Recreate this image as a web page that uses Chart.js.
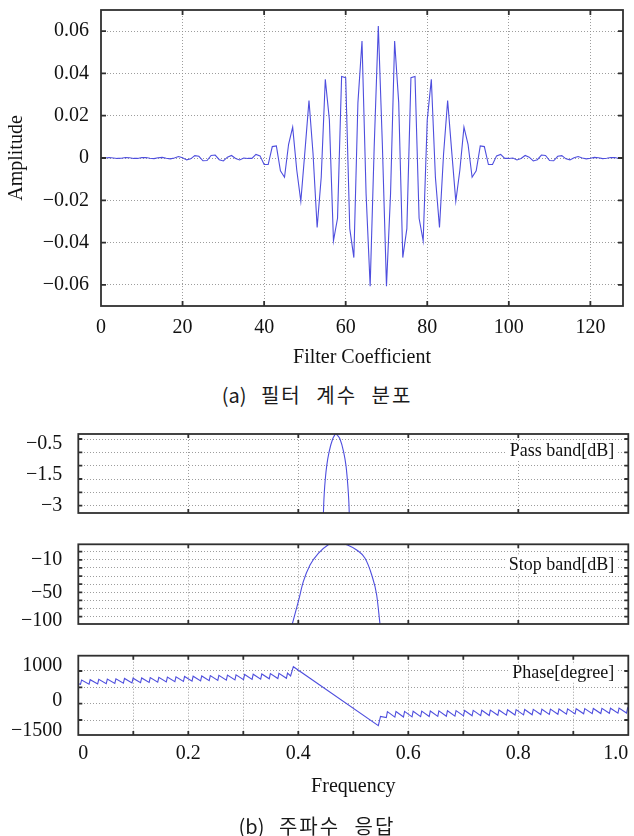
<!DOCTYPE html>
<html>
<head>
<meta charset="utf-8">
<script src="https://cdn.jsdelivr.net/npm/chart.js@4.4.1/dist/chart.umd.min.js"></script>
<style>
  html, body { margin: 0; padding: 0; background: #fff; }
  body { width: 634px; height: 836px; position: relative; overflow: hidden; }
  canvas { position: absolute; left: 0; }
  .cap { position: absolute; left: 0; width: 634px; text-align: center; font-family: "Noto Sans CJK KR", sans-serif;
         font-size: 20px; line-height: 26px; color: #1a1a1a; letter-spacing: 2px; word-spacing: 8px; }
  .cap span { letter-spacing: 0; }
</style>
</head>
<body>
<canvas id="cCoef" width="634" height="370" style="top:0px;width:634px;height:370px"></canvas>
<div class="cap" style="top:382px"><span>(a)</span> 필터 계수 분포</div>
<canvas id="cPass" width="634" height="95" style="top:425px;width:634px;height:95px"></canvas>
<canvas id="cStop" width="634" height="100" style="top:535px;width:634px;height:100px"></canvas>
<canvas id="cPhase" width="634" height="191" style="top:645px;width:634px;height:191px"></canvas>
<div class="cap" style="top:813px"><span>(b)</span> 주파수 응답</div>
<script>
// ---------------- DATA ----------------
// (a) filter coefficients, index 0..128
const coefValues = [
  -0.0002, 0, 0.0002, 0, -0.0002, -0.0001, 0.0002, 0.0001, -0.0002, -0.0002,
  0.0002, 0.0002, -0.0001, -0.0003, 0.0001, 0.0003, -0.0001, -0.0004, 0, 0.0007,
  0.0001, -0.0009, -0.0004, 0.0011, 0.0008, -0.0013, -0.0012, 0.0012, 0.0014, -0.0008,
  -0.0014, 0.0004, 0.0012, -0.0002, -0.0009, 0, -0.0002, -0.0002, 0.0017, 0.0010,
  -0.0031, -0.0031, 0.0054, 0.0057, -0.0061, -0.0091, 0.0065, 0.0146, -0.0057, -0.0205,
  0.0030, 0.0272, 0.0019, -0.0329, -0.0091, 0.0372, 0.0181, -0.0392, -0.0285, 0.0386,
  0.0380, -0.0334, -0.0471, 0.0262, 0.0553, -0.0169, -0.0606, 0.0059, 0.0624, 0.0059,
  -0.0606, -0.0169, 0.0553, 0.0262, -0.0471, -0.0334, 0.0380, 0.0386, -0.0285, -0.0392,
  0.0181, 0.0372, -0.0091, -0.0329, 0.0019, 0.0272, 0.0030, -0.0205, -0.0057, 0.0146,
  0.0065, -0.0091, -0.0061, 0.0057, 0.0054, -0.0031, -0.0031, 0.0010, 0.0017, -0.0002,
  -0.0002, 0, -0.0009, -0.0002, 0.0012, 0.0004, -0.0014, -0.0008, 0.0014, 0.0012,
  -0.0012, -0.0013, 0.0008, 0.0011, -0.0004, -0.0009, 0.0001, 0.0007, 0, -0.0004,
  -0.0001, 0.0003, 0.0001, -0.0003, -0.0001, 0.0002, 0.0002, -0.0002, -0.0002
];
const coefIndex = coefValues.map((_, i) => i);
const coefXTicks = [0, 20, 40, 60, 80, 100, 120];
const coefXLabels = ['0', '20', '40', '60', '80', '100', '120'];
const coefYTicks = [-0.06, -0.04, -0.02, 0, 0.02, 0.04, 0.06];
const coefYLabels = ['\u22120.06', '\u22120.04', '\u22120.02', '0', '0.02', '0.04', '0.06'];

// (b) pass band
const passFreq = [0.4448, 0.4457, 0.4461, 0.4473, 0.4491, 0.4517, 0.4559, 0.4625, 0.4660, 0.4685,
                  0.4711, 0.4758, 0.4825, 0.4867, 0.4891, 0.4909, 0.4922, 0.4926, 0.4933];
const passDb   = [-3.6, -3.275, -3.0, -2.5, -2.0, -1.5, -0.99, -0.5, -0.36, -0.30,
                  -0.36, -0.5, -0.99, -1.5, -2.0, -2.5, -3.0, -3.275, -3.6];
const passYLabels = ['\u22120.5', '\u22121.5', '\u22123'];

// (b) stop band
const stopFreq = [0.3851, 0.3891, 0.4000, 0.4091, 0.4213, 0.4364, 0.4545, 0.4625, 0.4704, 0.4780,
                  0.4880, 0.5062, 0.5213, 0.5335, 0.5425, 0.5485, 0.5505];
const stopDb   = [-99, -89, -61.5, -36.9, -16.4, -2.0, 8.5, 11, 11.5, 11,
                  8.5, 2.1, -8.1, -28.7, -53.3, -89, -101];
const stopYLabels = ['\u221210', '\u221250', '\u2212100'];

// (b) phase
const phaseFreq = [
  0, 0.004, 0.006, 0.0196, 0.0216, 0.0352, 0.0372, 0.0508, 0.0528, 0.0664, 0.0684, 0.082, 0.084,
  0.0976, 0.0996, 0.1132, 0.1152, 0.1288, 0.1308, 0.1444, 0.1464, 0.16, 0.162, 0.1756, 0.1776,
  0.1912, 0.1932, 0.2068, 0.2088, 0.2224, 0.2244, 0.238, 0.24, 0.2536, 0.2556, 0.2692, 0.2712,
  0.2848, 0.2868, 0.3004, 0.3024, 0.316, 0.318, 0.3316, 0.3336, 0.3472, 0.3492, 0.3628, 0.3648,
  0.3784, 0.3804, 0.386, 0.391,
  0.5455, 0.5495, 0.560, 0.562, 0.5756, 0.5776, 0.5912, 0.5932, 0.6068, 0.6088, 0.6224, 0.6244,
  0.638, 0.64, 0.6536, 0.6556, 0.6692, 0.6712, 0.6848, 0.6868, 0.7004, 0.7024, 0.716, 0.718,
  0.7316, 0.7336, 0.7472, 0.7492, 0.7628, 0.7648, 0.7784, 0.7804, 0.794, 0.796, 0.8096, 0.8116,
  0.8252, 0.8272, 0.8408, 0.8428, 0.8564, 0.8584, 0.872, 0.874, 0.8876, 0.8896, 0.9032, 0.9052,
  0.9188, 0.9208, 0.9344, 0.9364, 0.95, 0.952, 0.9656, 0.9676, 0.9812, 0.9832, 0.9968, 0.9988, 1.0
];
const phaseDeg = [
  610, 590, 725, 596, 735, 604, 744, 612, 753, 619, 762, 627, 771,
  635, 779, 643, 788, 651, 797, 658, 806, 666, 814, 674, 823,
  682, 832, 690, 840, 697, 849, 705, 858, 713, 866, 721, 875,
  729, 884, 736, 893, 744, 901, 752, 910, 760, 919, 768, 928,
  776, 937, 850, 1132,
  -674, -390, -425, -244, -412, -240, -408, -236, -403, -232, -398, -228,
  -394, -224, -389, -220, -384, -216, -380, -212, -375, -208, -370, -204,
  -365, -200, -361, -196, -356, -192, -352, -187, -347, -183, -342, -179,
  -338, -175, -333, -171, -328, -167, -323, -163, -319, -159, -314, -155,
  -310, -151, -305, -147, -300, -143, -295, -138, -291, -134, -286, -130, -140
];
const phaseYLabels = ['1000', '0', '\u22121500'];

const freqTicks = [0, 0.1, 0.2, 0.3, 0.4, 0.5, 0.6, 0.7, 0.8, 0.9, 1.0];
const freqLabels = ['0', '', '0.2', '', '0.4', '', '0.6', '', '0.8', '', '1.0'];

// ---------------- STYLE / CONFIG ----------------
const LINE = 'rgb(78,78,222)';
const GRID = 'rgba(140,140,140,0.85)';
const FRAME = '#303030';
const SERIF = "'Liberation Serif', 'Times New Roman', serif";
Chart.defaults.font.family = SERIF;
Chart.defaults.color = '#111';

const framePlugin = {
  id: 'frame',
  afterDatasetsDraw(chart, args, o) {
    const {ctx, chartArea: a, scales} = chart;
    const xs = scales.x, ys = scales.y;
    ctx.save();
    ctx.strokeStyle = FRAME;
    ctx.lineWidth = o.width;
    ctx.beginPath();
    (o.xTicks || []).forEach(v => {
      const p = xs.getPixelForValue(v);
      ctx.moveTo(p, a.top); ctx.lineTo(p, a.top + o.len);
      ctx.moveTo(p, a.bottom); ctx.lineTo(p, a.bottom - o.len);
    });
    (o.yTicks || []).forEach(v => {
      const p = ys.getPixelForValue(v);
      ctx.moveTo(a.left, p); ctx.lineTo(a.left + o.len, p);
      ctx.moveTo(a.right, p); ctx.lineTo(a.right - o.len, p);
    });
    ctx.stroke();
    ctx.strokeRect(a.left, a.top, a.right - a.left, a.bottom - a.top);
    if (o.label) {
      ctx.font = '18px ' + SERIF;
      ctx.textAlign = 'right';
      ctx.textBaseline = 'middle';
      const w = ctx.measureText(o.label).width;
      const x = a.right - o.labelDx, y = a.top + o.labelDy;
      ctx.fillStyle = '#fff';
      ctx.fillRect(x - w - 3, y - 9, w + 6, 18);
      ctx.fillStyle = '#111';
      ctx.fillText(o.label, x, y);
    }
    ctx.restore();
  }
};

function yAxis(cfg) {
  const labelVals = cfg.labelAt;
  const all = Array.from(new Set(cfg.grid.concat(labelVals))).sort((p, q) => p - q);
  return {
    type: 'linear', min: cfg.min, max: cfg.max,
    afterBuildTicks: s => { s.ticks = all.map(v => ({value: v})); },
    afterFit: s => { s.width = cfg.width; s.paddingTop = 0; s.paddingBottom = 0; },
    ticks: {
      autoSkip: false, padding: cfg.pad, color: '#111',
      font: {family: SERIF, size: 20},
      callback: v => { const i = labelVals.indexOf(v); return i >= 0 ? cfg.labels[i] : ''; }
    },
    grid: {
      drawTicks: false, lineWidth: 1,
      color: c => (c.tick && cfg.grid.includes(c.tick.value)) ? GRID : 'rgba(0,0,0,0)'
    },
    border: {display: false, dash: [1, 2]},
    title: cfg.title || {display: false}
  };
}

function xAxis(cfg) {
  return {
    type: 'linear', min: cfg.min, max: cfg.max,
    afterBuildTicks: s => { s.ticks = cfg.ticks.map(v => ({value: v})); },
    afterFit: s => { s.height = cfg.height; s.paddingLeft = 0; s.paddingRight = 0; s.paddingTop = 0; s.paddingBottom = 0; },
    ticks: {
      display: cfg.showLabels, autoSkip: false, maxRotation: 0, padding: cfg.pad || 0,
      align: cfg.align || 'center', color: '#111',
      font: {family: SERIF, size: 20},
      callback: (v, i) => cfg.labels ? cfg.labels[i] : ''
    },
    grid: {
      drawTicks: false, lineWidth: 1,
      color: c => (c.tick && cfg.grid.includes(c.tick.value)) ? GRID : 'rgba(0,0,0,0)'
    },
    border: {display: false, dash: [1, 2]},
    title: cfg.title || {display: false}
  };
}

function baseOptions(extra) {
  return Object.assign({
    responsive: false, animation: false, devicePixelRatio: 1, events: [],
    plugins: {legend: {display: false}, tooltip: {enabled: false}}
  }, extra);
}

function pts(xs, ys) { return xs.map((x, i) => ({x: x, y: ys[i]})); }

// ---------- (a) coefficients ----------
new Chart(document.getElementById('cCoef'), {
  type: 'line',
  data: { labels: coefIndex,
    datasets: [{ data: coefValues, borderColor: LINE, borderWidth: 1.1, pointRadius: 0, tension: 0 }] },
  options: baseOptions({
    layout: {padding: {top: 10, right: 11, left: 0, bottom: 0}},
    scales: {
      x: xAxis({min: 0, max: 128, ticks: coefXTicks, labels: coefXLabels, showLabels: true, pad: 9.5,
                grid: [20, 40, 60, 80, 100, 120], height: 64,
                title: {display: true, text: 'Filter Coefficient', color: '#111',
                        font: {family: SERIF, size: 20}, padding: {top: 0, bottom: 0}}}),
      y: yAxis({min: -0.07, max: 0.07, grid: coefYTicks, labelAt: coefYTicks, labels: coefYLabels,
                width: 101, pad: 12,
                title: {display: true, text: 'Amplitude', color: '#111',
                        font: {family: SERIF, size: 20}, padding: {top: 5, bottom: 0}}})
    },
    plugins: {legend: {display: false}, tooltip: {enabled: false},
      frame: {xTicks: [20, 40, 60, 80, 100, 120], yTicks: coefYTicks, len: 5, width: 1.8}}
  }),
  plugins: [framePlugin]
});

// ---------- (b) pass band ----------
new Chart(document.getElementById('cPass'), {
  type: 'line',
  data: { datasets: [{ data: pts(passFreq, passDb), borderColor: LINE, borderWidth: 1.1, pointRadius: 0,
                       cubicInterpolationMode: 'monotone' }] },
  options: baseOptions({
    layout: {padding: {top: 9, right: 5.7, left: 0, bottom: 0}},
    scales: {
      x: xAxis({min: 0, max: 1, ticks: freqTicks, showLabels: false, grid: [0.2, 0.4, 0.6, 0.8], height: 7}),
      y: yAxis({min: -3.275, max: -0.3125, grid: [-0.5, -1, -1.5, -2, -2.5, -3],
                labelAt: [-0.6875, -1.85, -3], labels: passYLabels, width: 78.3, pad: 16})
    },
    plugins: {legend: {display: false}, tooltip: {enabled: false},
      frame: {xTicks: [0.2, 0.4, 0.6, 0.8], yTicks: [-0.5, -1, -1.5, -2, -2.5, -3], len: 4, width: 1.8,
              label: 'Pass band[dB]', labelDx: 14, labelDy: 17.7}}
  }),
  plugins: [framePlugin]
});

// ---------- (b) stop band ----------
new Chart(document.getElementById('cStop'), {
  type: 'line',
  data: { datasets: [{ data: pts(stopFreq, stopDb), borderColor: LINE, borderWidth: 1.1, pointRadius: 0,
                       cubicInterpolationMode: 'monotone' }] },
  options: baseOptions({
    layout: {padding: {top: 9.3, right: 5.7, left: 0, bottom: 0}},
    scales: {
      x: xAxis({min: 0, max: 1, ticks: freqTicks, showLabels: false, grid: [0.2, 0.4, 0.6, 0.8], height: 11}),
      y: yAxis({min: -89, max: 9.1, grid: [0, -10, -20, -30, -40, -50, -60, -70, -80],
                labelAt: [-10, -50, -85], labels: stopYLabels, width: 78.3, pad: 16})
    },
    plugins: {legend: {display: false}, tooltip: {enabled: false},
      frame: {xTicks: [0.2, 0.4, 0.6, 0.8], yTicks: [0, -10, -20, -30, -40, -50, -60, -70, -80], len: 4, width: 1.8,
              label: 'Stop band[dB]', labelDx: 14, labelDy: 20.7}}
  }),
  plugins: [framePlugin]
});

// ---------- (b) phase ----------
new Chart(document.getElementById('cPhase'), {
  type: 'line',
  data: { datasets: [{ data: pts(phaseFreq, phaseDeg), borderColor: LINE, borderWidth: 1.1, pointRadius: 0, tension: 0 }] },
  options: baseOptions({
    layout: {padding: {top: 10.7, right: 5.7, left: 0, bottom: 0}},
    scales: {
      x: xAxis({min: 0, max: 1, ticks: freqTicks, labels: freqLabels, showLabels: true, pad: 7, align: 'inner',
                grid: [0.1, 0.2, 0.3, 0.4, 0.5, 0.6, 0.7, 0.8, 0.9], height: 101,
                title: {display: true, text: 'Frequency', color: '#111',
                        font: {family: SERIF, size: 20}, padding: {top: 0, bottom: 37.3}}}),
      y: yAxis({min: -959, max: 1468, grid: [1000, 500, 0, -500],
                labelAt: [1162, 101, -837], labels: phaseYLabels, width: 78.3, pad: 16})
    },
    plugins: {legend: {display: false}, tooltip: {enabled: false},
      frame: {xTicks: [0.1, 0.2, 0.3, 0.4, 0.5, 0.6, 0.7, 0.8, 0.9], yTicks: [1000, 500, 0, -500], len: 4, width: 1.8,
              label: 'Phase[degree]', labelDx: 14, labelDy: 17.6}}
  }),
  plugins: [framePlugin]
});
</script>
</body>
</html>
